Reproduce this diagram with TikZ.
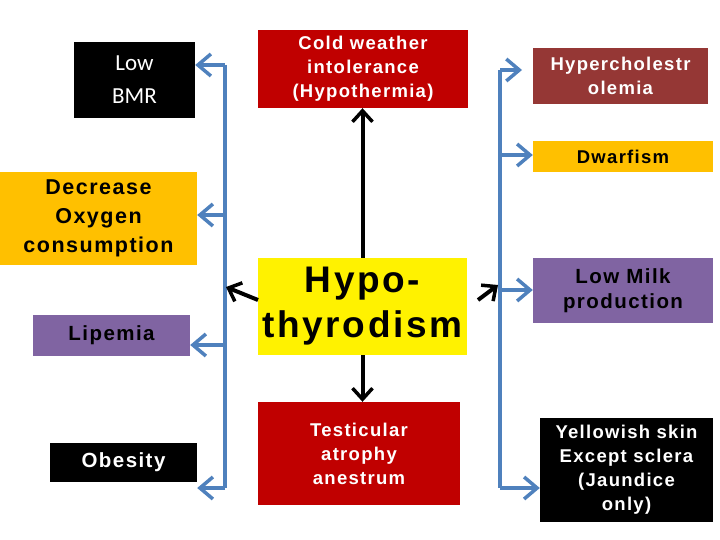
\documentclass[tikz,border=0pt]{standalone}
\usepackage{fontspec}
\setmainfont{Liberation Sans}[LetterSpace=7]
\newfontfamily\calfont{Carlito}
\usetikzlibrary{arrows.meta}
\definecolor{darkred}{HTML}{C00000}
\definecolor{brownred}{HTML}{953735}
\definecolor{amber}{HTML}{FFC000}
\definecolor{violet}{HTML}{8064A2}
\definecolor{busblue}{HTML}{4F81BD}
\tikzset{
  box/.style={rectangle, inner sep=1pt, align=center, font=\bfseries\fontsize{18.5}{24}\selectfont},
  bus/.style={line width=4pt, busblue},
  busarrow/.style={line width=4pt, busblue, -{Straight Barb[length=13pt,width=22pt,line width=3.5pt]}},
  blackarrow/.style={line width=4pt, -{Straight Barb[length=11pt,width=20pt,line width=3.5pt]}}
}
\begin{document}
\begin{tikzpicture}[x=1pt,y=-1pt]
  \useasboundingbox (0,0) rectangle (720,540);
  % left column
  \node (bmr) [box, fill=black, text=white, minimum width=121pt, minimum height=76pt, font=\calfont\fontsize{23}{33}\selectfont] at (134.5,80) {Low\\BMR};
  \node (oxygen) [box, fill=amber, minimum width=197pt, minimum height=93pt, font=\bfseries\fontsize{21.5}{29}\selectfont] at (98.5,218.5) {Decrease\\Oxygen\\consumption};
  \node (lipemia) [box, fill=violet, minimum width=157pt, minimum height=41pt, font=\bfseries\fontsize{20.5}{24}\selectfont] at (111.5,335.5) {Lipemia};
  \node (obesity) [box, fill=black, text=white, minimum width=147pt, minimum height=39pt, font=\bfseries\fontsize{20.5}{24}\selectfont] at (123.5,462.5) {Obesity};
  % middle column
  \node (cold) [box, fill=darkred, text=white, minimum width=210pt, minimum height=78pt] at (363,69) {Cold weather\\intolerance\\(Hypothermia)};
  \node (hypo) [box, fill=yellow, minimum width=209pt, minimum height=97pt, font=\bfseries\fontsize{37}{45}\selectfont] at (362.5,306.5) {Hypo-\\thyrodism};
  \node (testis) [box, fill=darkred, text=white, minimum width=202pt, minimum height=103pt] at (359,453.5) {Testicular\\atrophy\\anestrum};
  % right column
  \node (chol) [box, fill=brownred, text=white, minimum width=175pt, minimum height=56pt] at (620.5,76) {Hypercholestr\\olemia};
  \node (dwarf) [box, fill=amber, minimum width=180pt, minimum height=31pt] at (623,156.5) {Dwarfism};
  \node (milk) [box, fill=violet, minimum width=180pt, minimum height=65pt, font=\bfseries\fontsize{20.5}{25}\selectfont] at (623,290.5) {Low Milk\\production};
  \node (skin) [box, fill=black, text=white, minimum width=173pt, minimum height=104pt, font=\bfseries\fontsize{18.5}{24}\selectfont] at (626.5,470) {Yellowish skin\\Except sclera\\(Jaundice\\only)};
  % buses
  \coordinate (ltop) at (225,65);
  \coordinate (lbot) at (225,488);
  \coordinate (rtop) at (500,70);
  \coordinate (rbot) at (500,488);
  \draw [bus] (ltop) -- (lbot);
  \draw [bus] (rtop) -- (rbot);
  \draw [busarrow] (ltop) -- (bmr.east |- ltop);
  \draw [busarrow] (225,215) -- (oxygen.east |- 0,215);
  \draw [busarrow] (225,345) -- (lipemia.east |- 0,345);
  \draw [busarrow] (lbot) -- (obesity.east |- lbot);
  \draw [busarrow] (rtop) -- (522,70);
  \draw [busarrow] (500,155) -- (dwarf.west |- 0,155);
  \draw [busarrow] (500,290) -- (milk.west |- 0,290);
  \draw [busarrow] (rbot) -- (skin.west |- rbot);
  % black arrows
  \draw [blackarrow] (hypo.north) -- (hypo.north |- cold.south);
  \draw [blackarrow] (hypo.south) -- (hypo.south |- testis.north);
  \draw [blackarrow] (258,300) -- (226,287);
  \draw [blackarrow] (478,300) -- (498,285);
\end{tikzpicture}
\end{document}
